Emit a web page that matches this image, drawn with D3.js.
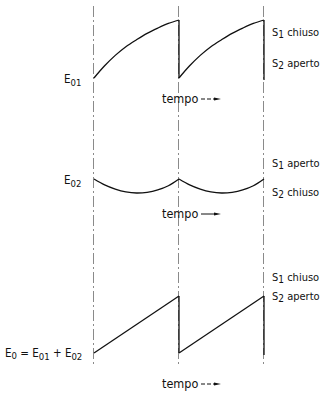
<!DOCTYPE html>
<html>
<head>
<meta charset="utf-8">
<script src="https://cdn.jsdelivr.net/npm/d3@7"></script>
<style>
  body { margin: 0; background: #fff; }
  text { font-family: "DejaVu Sans Condensed", "Liberation Sans Narrow", sans-serif; fill: #111; }
</style>
</head>
<body>
<div id="chart"></div>
<script>
// time axis: two switching cycles
const cycleTimes = [0, 0.125, 0.25, 0.375, 0.5, 0.625, 0.75, 0.875, 1];
const cycleCount = 2;
// E01: charging curve, relative units
const e01Values = [0, 0.21, 0.39, 0.54, 0.66, 0.77, 0.86, 0.94, 1.0];
// E02: discharge dip, relative units
const e02Values = [0, -0.42, -0.72, -0.92, -1.0, -0.95, -0.78, -0.48, 0];
// E0 = E01 + E02: linear ramp
const e0Times = [0, 1];
const e0Values = [0, 1];

const panelLabels = ["E", "E", "E"];
const switchLabels = [
  ["S1 chiuso", "S2 aperto"],
  ["S1 aperto", "S2 chiuso"],
  ["S1 chiuso", "S2 aperto"]
];
const axisLabel = "tempo";

const width = 329, height = 393;
const svg = d3.select("#chart").append("svg")
  .attr("width", width)
  .attr("height", height);

const x = d3.scaleLinear().domain([0, cycleCount]).range([94, 264]);

// guide lines at each cycle boundary
const bounds = d3.range(cycleCount + 1);
svg.selectAll(".guide")
  .data(bounds)
  .enter().append("line")
  .attr("class", "guide")
  .attr("x1", d => x(d) - 0.5)
  .attr("x2", d => x(d) - 0.5)
  .attr("y1", 6)
  .attr("y2", 364)
  .attr("stroke", "#8a8a8a")
  .attr("stroke-width", 1)
  .attr("stroke-dasharray", "11,3,2,3");

const panels = [
  {times: cycleTimes, values: e01Values, y: d3.scaleLinear().domain([0, 1]).range([78, 20]),
   curve: d3.curveCatmullRom, drop: true, labelY: 83, sw: [36, 67], tempoY: 103},
  {times: cycleTimes, values: e02Values, y: d3.scaleLinear().domain([-1, 0]).range([193, 179]),
   curve: d3.curveCatmullRom, drop: false, labelY: 184, sw: [167, 196], tempoY: 218},
  {times: e0Times, values: e0Values, y: d3.scaleLinear().domain([0, 1]).range([353, 296]),
   curve: d3.curveLinear, drop: true, labelY: 357, sw: [281, 300], tempoY: 388}
];

panels.forEach((p, k) => {
  const g = svg.append("g");
  for (let c = 0; c < cycleCount; c++) {
    const seg = p.times.map((t, i) => ({t: c + t, v: p.values[i]}));
    const line = d3.line().x(d => x(d.t)).y(d => p.y(d.v)).curve(p.curve);
    g.append("path")
      .attr("d", line(seg))
      .attr("fill", "none")
      .attr("stroke", "#111")
      .attr("stroke-width", 1.3);
    if (p.drop) {
      const last = p.values[p.values.length - 1];
      g.append("line")
        .attr("x1", x(c + 1)).attr("x2", x(c + 1))
        .attr("y1", p.y(last)).attr("y2", p.y(p.values[0]) + (c === cycleCount - 1 ? 2 : 0))
        .attr("stroke", "#111")
        .attr("stroke-width", 1.3);
    }
  }

  // switch state labels
  switchLabels[k].forEach((s, i) => {
    const t = g.append("text")
      .attr("x", 272)
      .attr("y", p.sw[i])
      .attr("font-size", 11);
    t.append("tspan").text(s[0]);
    t.append("tspan").attr("dy", 2).attr("font-size", 10).text(s[1]);
    t.append("tspan").attr("dy", -2).text("  " + s.slice(3));
  });

  // tempo label with arrow
  g.append("text")
    .attr("x", 162)
    .attr("y", p.tempoY)
    .attr("font-size", 12.5)
    .text(axisLabel);
  g.append("line")
    .attr("x1", 201).attr("x2", 216)
    .attr("y1", p.tempoY - 4).attr("y2", p.tempoY - 4)
    .attr("stroke", "#111")
    .attr("stroke-width", 1)
    .attr("stroke-dasharray", k === 1 ? null : "4,2");
  g.append("path")
    .attr("d", d3.line()([[214, p.tempoY - 5.5], [221, p.tempoY - 4], [214, p.tempoY - 2.5]]))
    .attr("fill", "#111");
});

// voltage labels
function voltLabel(sel, sub) {
  sel.append("tspan").text(panelLabels[0]);
  sel.append("tspan").attr("dy", 3).attr("font-size", 9.5).text(sub);
  sel.append("tspan").attr("dy", -3).text("");
}
voltLabel(svg.append("text").attr("x", 64).attr("y", panels[0].labelY).attr("font-size", 11.5), "01");
voltLabel(svg.append("text").attr("x", 64).attr("y", panels[1].labelY).attr("font-size", 11.5), "02");

const eq = svg.append("text").attr("x", 5).attr("y", panels[2].labelY).attr("font-size", 11.5);
eq.append("tspan").text("E");
eq.append("tspan").attr("dy", 2).attr("font-size", 9.5).text("0");
eq.append("tspan").attr("dy", -2).text(" = E");
eq.append("tspan").attr("dy", 3).attr("font-size", 9.5).text("01");
eq.append("tspan").attr("dy", -3).text(" + E");
eq.append("tspan").attr("dy", 3).attr("font-size", 9.5).text("02");
</script>
</body>
</html>
